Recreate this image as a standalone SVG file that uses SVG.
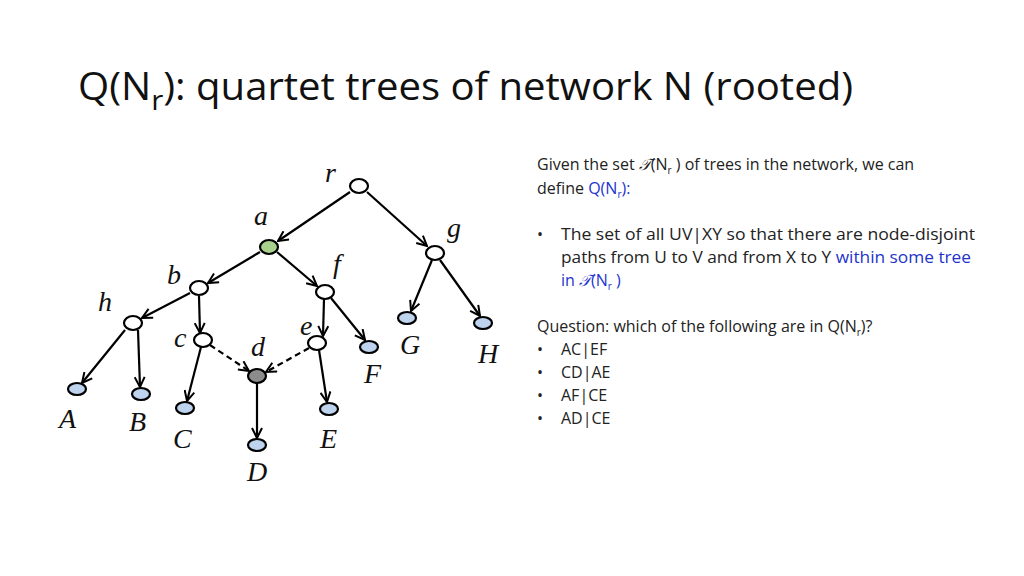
<svg xmlns="http://www.w3.org/2000/svg" width="1024" height="576" viewBox="0 0 1024 576">
<style>
.t{font-family:"Open Sans","Liberation Sans",Arial,sans-serif;font-size:16px;fill:#222}
.b{fill:#2233cc}
.l{font-family:"Liberation Serif","DejaVu Serif",serif;font-style:italic;font-size:28px;fill:#111}
.n{stroke:#000;stroke-width:2.2;fill:#fff}
.leaf{fill:#bdd3ee}
.e{stroke:#000;stroke-width:2.2;fill:none}
.dash{stroke-dasharray:6,4}
</style>
<defs>
<marker id="ar" viewBox="0 0 12 12" refX="11" refY="6" markerWidth="12" markerHeight="12" markerUnits="userSpaceOnUse" orient="auto">
<path d="M1,1 L11,6 L1,11" fill="none" stroke="#000" stroke-width="2"/>
</marker>
</defs>
<rect width="1024" height="576" fill="#fff"/>
<text x="78" y="100" font-family="Open Sans,Liberation Sans,Arial,sans-serif" font-size="38" fill="#111" textLength="775" lengthAdjust="spacingAndGlyphs">Q(N<tspan font-size="28" dy="10">r</tspan><tspan dy="-10">): quartet trees of network N (rooted)</tspan></text>
<g id="connectors">
<line class="e" x1="350" y1="192" x2="278" y2="241" marker-end="url(#ar)"/>
<line class="e" x1="367" y1="192" x2="427" y2="246" marker-end="url(#ar)"/>
<line class="e" x1="260" y1="252" x2="208" y2="283" marker-end="url(#ar)"/>
<line class="e" x1="277" y1="252" x2="317" y2="286" marker-end="url(#ar)"/>
<line class="e" x1="190" y1="293" x2="142" y2="318" marker-end="url(#ar)"/>
<line class="e" x1="199" y1="296" x2="200" y2="333" marker-end="url(#ar)"/>
<line class="e" x1="125" y1="330" x2="82" y2="383" marker-end="url(#ar)"/>
<line class="e" x1="138" y1="330" x2="140" y2="387" marker-end="url(#ar)"/>
<line class="e" x1="201" y1="347" x2="187" y2="401" marker-end="url(#ar)"/>
<line class="e dash" x1="210" y1="345" x2="249" y2="371" marker-end="url(#ar)"/>
<line class="e dash" x1="309" y1="348" x2="266" y2="372" marker-end="url(#ar)"/>
<line class="e" x1="324" y1="299" x2="323" y2="336" marker-end="url(#ar)"/>
<line class="e" x1="331" y1="298" x2="365" y2="340" marker-end="url(#ar)"/>
<line class="e" x1="319" y1="350" x2="327" y2="402" marker-end="url(#ar)"/>
<line class="e" x1="257" y1="383" x2="257" y2="438" marker-end="url(#ar)"/>
<line class="e" x1="432" y1="260" x2="411" y2="311" marker-end="url(#ar)"/>
<line class="e" x1="440" y1="260" x2="480" y2="316" marker-end="url(#ar)"/>
</g>
<g id="r"><ellipse class="n" cx="359" cy="186" rx="9" ry="7"/><text class="l" x="325" y="182">r</text></g>
<g id="a"><ellipse class="n" cx="269" cy="247" rx="9" ry="7" style="fill:#a9d18e"/><text class="l" x="254" y="225">a</text></g>
<g id="g"><ellipse class="n" cx="435" cy="253" rx="9" ry="7"/><text class="l" x="447" y="237">g</text></g>
<g id="b"><ellipse class="n" cx="199" cy="288" rx="9" ry="7"/><text class="l" x="167" y="284">b</text></g>
<g id="f"><ellipse class="n" cx="325" cy="292" rx="9" ry="7"/><text class="l" x="333" y="273">f</text></g>
<g id="h"><ellipse class="n" cx="133" cy="323" rx="9" ry="7"/><text class="l" x="98" y="311">h</text></g>
<g id="c"><ellipse class="n" cx="203" cy="340" rx="9" ry="7"/><text class="l" x="174" y="347">c</text></g>
<g id="e"><ellipse class="n" cx="317" cy="343" rx="9" ry="7"/><text class="l" x="300" y="335">e</text></g>
<g id="d"><ellipse class="n" cx="257" cy="376" rx="9" ry="7" style="fill:#8c8c8c"/><text class="l" x="251" y="356">d</text></g>
<g id="A"><ellipse class="n leaf" cx="77" cy="389" rx="9" ry="6"/><text class="l" x="59" y="428">A</text></g>
<g id="B"><ellipse class="n leaf" cx="141" cy="394" rx="9" ry="6"/><text class="l" x="129" y="431">B</text></g>
<g id="C"><ellipse class="n leaf" cx="185" cy="408" rx="9" ry="6"/><text class="l" x="173" y="448">C</text></g>
<g id="E"><ellipse class="n leaf" cx="329" cy="409" rx="9" ry="6"/><text class="l" x="320" y="448">E</text></g>
<g id="D"><ellipse class="n leaf" cx="257" cy="445" rx="9" ry="6"/><text class="l" x="247" y="481">D</text></g>
<g id="F"><ellipse class="n leaf" cx="369" cy="347" rx="9" ry="6"/><text class="l" x="364" y="383">F</text></g>
<g id="G"><ellipse class="n leaf" cx="407" cy="318" rx="9" ry="6"/><text class="l" x="400" y="354">G</text></g>
<g id="H"><ellipse class="n leaf" cx="483" cy="323" rx="9" ry="6"/><text class="l" x="478" y="363">H</text></g>
<g id="text">
<text class="t" x="537" y="170">Given the set <tspan font-family="DejaVu Serif,serif" font-style="italic">𝒯</tspan>(N<tspan font-size="10" dy="4">r</tspan><tspan dy="-4"> ) of trees in the network, we can</tspan></text>
<text class="t" x="537" y="194">define <tspan class="b">Q(N<tspan font-size="10" dy="4">r</tspan><tspan dy="-4">):</tspan></tspan></text>
<text class="t" x="537" y="240">•</text>
<text class="t" x="561" y="240" textLength="414" lengthAdjust="spacingAndGlyphs">The set of all  UV|XY so that there are node-disjoint</text>
<text class="t" x="561" y="263" textLength="410" lengthAdjust="spacingAndGlyphs">paths from U to V and from X to Y <tspan class="b">within some tree</tspan></text>
<text class="t b" x="561" y="286">in <tspan font-family="DejaVu Serif,serif" font-style="italic">𝒯</tspan>(N<tspan font-size="10" dy="4">r</tspan><tspan dy="-4"> )</tspan></text>
<text class="t" x="537" y="332">Question:  which of the following are in Q(N<tspan font-size="10" dy="4">r</tspan><tspan dy="-4">)?</tspan></text>
<text class="t" x="537" y="355">•</text><text class="t" x="561" y="355">AC|EF</text>
<text class="t" x="537" y="378">•</text><text class="t" x="561" y="378">CD|AE</text>
<text class="t" x="537" y="401">•</text><text class="t" x="561" y="401">AF|CE</text>
<text class="t" x="537" y="424">•</text><text class="t" x="561" y="424">AD|CE</text>
</g>
</svg>
